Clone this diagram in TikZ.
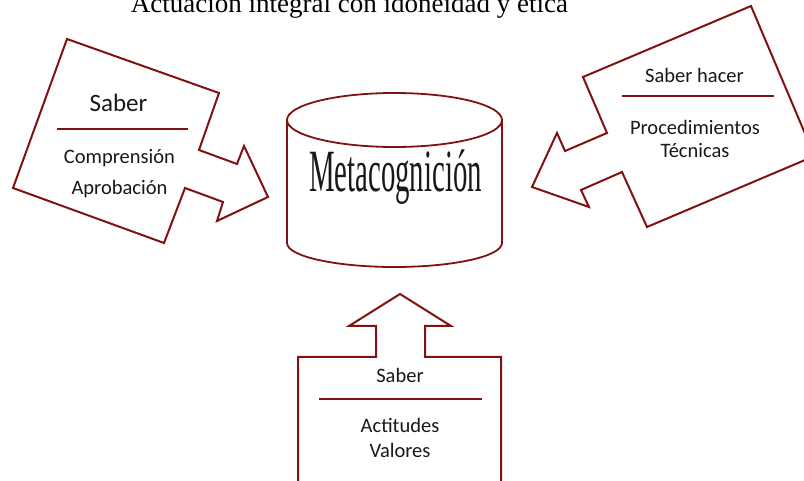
\documentclass[tikz,border=0pt]{standalone}
\usepackage{fontspec}
\setmainfont{Liberation Serif}
\newfontfamily\calib{Carlito}
\definecolor{dred}{RGB}{128,18,18}
\definecolor{txt}{RGB}{25,25,25}
\tikzset{
  shp/.style={draw=dred, line width=2pt, line join=miter, fill=white},
  sep/.style={draw=dred, line width=1.8pt},
  lbl/.style={anchor=base, inner sep=0pt, text=txt, font=\calib\fontsize{20.5}{24}\selectfont},
}
\begin{document}
\begin{tikzpicture}[x=1pt,y=-1pt]
\useasboundingbox (0,0) rectangle (804,481);
\clip (0,0) rectangle (804,481);
% title
\node[anchor=base, inner sep=0pt, text=black, font=\fontsize{27}{30}\selectfont] (title) at (349.5,13) {Actuación integral con idoneidad y ética};
% left arrow
\draw[shp] (67,39) -- (219,93) -- (199,150) -- (237,164) -- (244,146) -- (268,197)
  -- (217,221) -- (223,202) -- (185,188) -- (164,243) -- (13,188) -- cycle;
\draw[sep] (57,129) -- (188,129);
\node[lbl, font=\calib\fontsize{25}{28}\selectfont] (ls) at (118.5,112) {Saber};
\node[lbl] (lc) at (119.5,164) {Comprensión};
\node[lbl] (la) at (119.5,195) {Aprobación};
% right arrow
\draw[shp] (583,77) -- (607,133) -- (565,151) -- (557,133) -- (532,187) -- (589,207)
  -- (581,190) -- (622,172) -- (647,227) -- (814.5,156) -- (751,6) -- cycle;
\draw[sep] (622,96) -- (774,96);
\node[lbl] (rs) at (694.5,83) {Saber hacer};
\node[lbl] (rp) at (695,135) {Procedimientos};
\node[lbl] (rt) at (695,158) {Técnicas};
% bottom arrow
\draw[shp] (400,294) -- (451,326) -- (425,326) -- (425,357) -- (501,357) -- (501,490)
  -- (298,490) -- (298,357) -- (376,357) -- (376,326) -- (349,326) -- cycle;
\draw[sep] (319,399) -- (482,399);
\node[lbl] (bs) at (400,382) {Saber};
\node[lbl] (ba) at (400,432) {Actitudes};
\node[lbl] (bv) at (400,457) {Valores};
% cylinder
\draw[draw=dred, line width=1.8pt, fill=white] (287,120) -- (287,243)
  arc[start angle=180, end angle=360, x radius=107.5pt, y radius=24pt] -- (502,120);
\draw[draw=dred, line width=1.8pt] (394.5,120) ellipse [x radius=107.5pt, y radius=27pt];
\node[anchor=base, inner sep=0pt, text=txt, font=\fontsize{60}{64}\selectfont] (meta) at (395.5,192) {\scalebox{0.48}[1]{Metacognición}};
\end{tikzpicture}
\end{document}
